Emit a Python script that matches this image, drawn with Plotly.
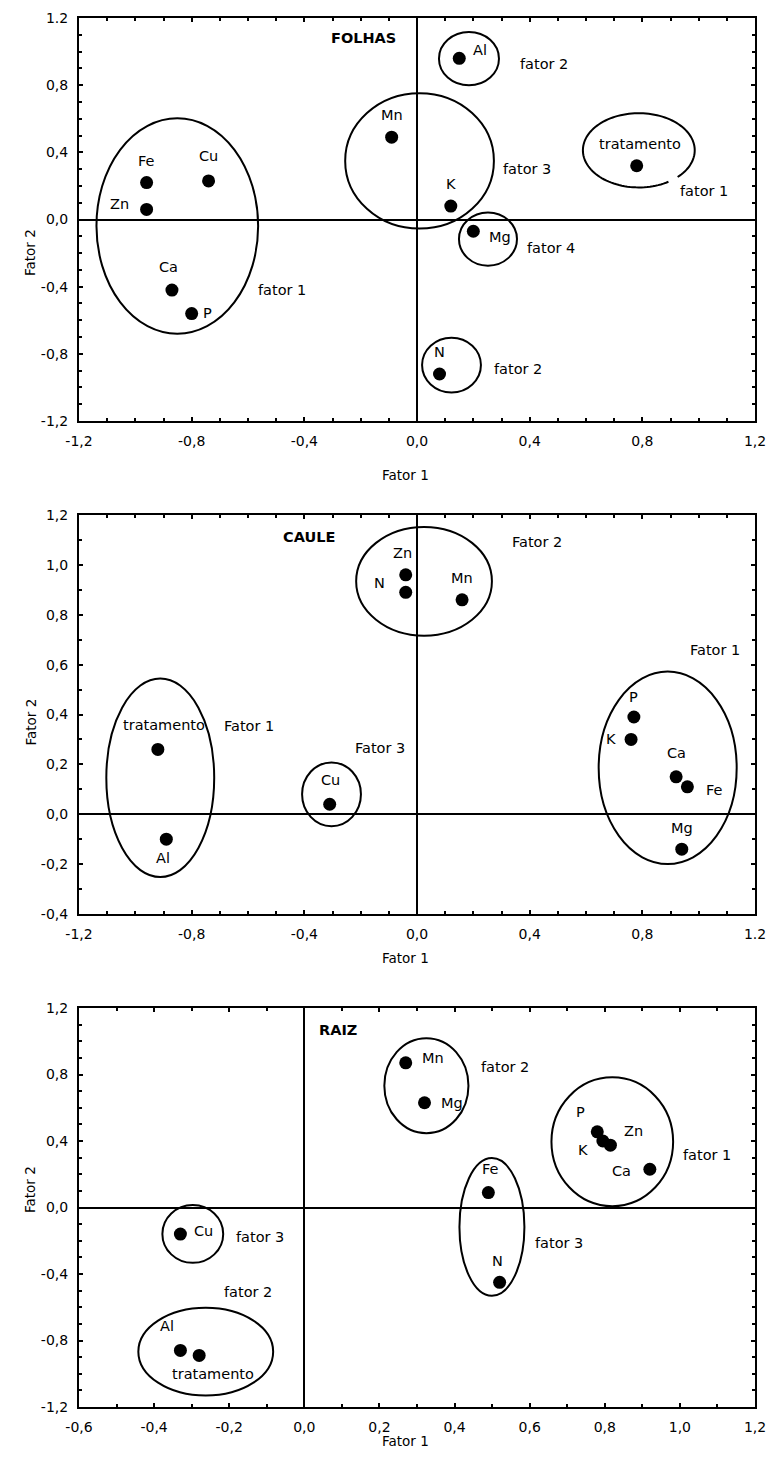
import numpy as np
import plotly.graph_objects as go

FONT = "DejaVu Sans"
W, H = 774, 1463

# ---------------- data: factor loadings (Fator 1, Fator 2) ----------------
folhas_var = ["Fe", "Cu", "Zn", "Ca", "P", "Mn", "Al", "K", "Mg", "N", "tratamento"]
folhas_f1 = [-0.96, -0.74, -0.96, -0.87, -0.80, -0.09, 0.15, 0.12, 0.20, 0.08, 0.78]
folhas_f2 = [0.22, 0.23, 0.06, -0.42, -0.56, 0.49, 0.96, 0.08, -0.07, -0.92, 0.32]

caule_var = ["tratamento", "Al", "Cu", "Zn", "N", "Mn", "P", "K", "Ca", "Fe", "Mg"]
caule_f1 = [-0.92, -0.89, -0.31, -0.04, -0.04, 0.16, 0.77, 0.76, 0.92, 0.96, 0.94]
caule_f2 = [0.26, -0.10, 0.04, 0.96, 0.89, 0.86, 0.39, 0.30, 0.15, 0.11, -0.14]

raiz_var = ["Cu", "Al", "tratamento", "Mn", "Mg", "Fe", "N", "P", "K", "Zn", "Ca"]
raiz_f1 = [-0.33, -0.33, -0.28, 0.27, 0.32, 0.49, 0.52, 0.78, 0.795, 0.815, 0.92]
raiz_f2 = [-0.16, -0.86, -0.89, 0.87, 0.63, 0.09, -0.45, 0.455, 0.40, 0.375, 0.23]

# tick values and labels
ticks_12 = [-1.2, -0.8, -0.4, 0.0, 0.4, 0.8, 1.2]
ticks_12_txt = ["-1,2", "-0,8", "-0,4", "0,0", "0,4", "0,8", "1,2"]
ticks_12_txt_y1 = ["-1,2", "-0,8", "-0,4", "0,0", "0,4", "0,8", "1.2"]
ticks_12_txt_x2 = ["-1,2", "-0,8", "-0,4", "0,0", "0,4", "0,8", "1.2"]
ticks_caule_y = [-0.4, -0.2, 0.0, 0.2, 0.4, 0.6, 0.8, 1.0, 1.2]
ticks_caule_y_txt = ["-0,4", "-0,2", "0,0", "0,2", "0,4", "0,6", "0,8", "1,0", "1,2"]
ticks_raiz_x = [-0.6, -0.4, -0.2, 0.0, 0.2, 0.4, 0.6, 0.8, 1.0, 1.2]
ticks_raiz_x_txt = ["-0,6", "-0,4", "-0,2", "0,0", "0,2", "0,4", "0,6", "0,8", "1,0", "1,2"]

# ---------------- label placement (pixel offsets from each point) ----------------
folhas_lbl = {"Fe": (0, 22), "Cu": (0, 25), "Zn": (-27, 5), "Ca": (-3, 23), "P": (16, 1),
              "Mn": (0, 22), "Al": (21, 8), "K": (0, 22), "Mg": (27, -6), "N": (0, 22),
              "tratamento": (3, 22)}
caule_lbl = {"tratamento": (6, 24), "Al": (-3, -19), "Cu": (1, 24), "Zn": (-3, 22),
             "N": (-26, 9), "Mn": (0, 22), "P": (0, 20), "K": (-20, 0), "Ca": (0, 24),
             "Fe": (27, -3), "Mg": (0, 21)}
raiz_lbl = {"Cu": (23, 3), "Al": (-13, 24), "tratamento": (14, -19), "Mn": (27, 5),
            "Mg": (27, 0), "Fe": (2, 24), "N": (-2, 21), "P": (-17, 20), "K": (-20, -9),
            "Zn": (23, 14), "Ca": (-28, -2)}

# group captions (text, x, y) in axis units
folhas_groups = [("fator 1", -0.48, -0.42), ("fator 3", 0.39, 0.30), ("fator 2", 0.45, 0.925),
                 ("fator 1", 1.02, 0.167), ("fator 4", 0.475, -0.167), ("fator 2", 0.36, -0.89)]
caule_groups = [("Fator 1", -0.596, 0.352), ("Fator 3", -0.131, 0.264),
                ("Fator 2", 0.426, 1.092), ("Fator 1", 1.057, 0.66)]
raiz_groups = [("fator 3", -0.117, -0.177), ("fator 2", -0.149, -0.508),
               ("fator 2", 0.535, 0.843), ("fator 3", 0.679, -0.216), ("fator 1", 1.073, 0.315)]

# grouping ellipses: (x0, x1, y0, y1) bounding boxes in axis units
folhas_ell = [(-1.138, -0.564, -0.68, 0.603), (-0.255, 0.273, -0.054, 0.752),
              (0.078, 0.291, 0.80, 1.116), (0.149, 0.355, -0.275, 0.042),
              (0.018, 0.227, -1.03, -0.704)]
folhas_ell_open = [((0.589, 0.986, 0.191, 0.633), (-58, -46))]  # ellipse with a small break
caule_ell = [(-1.103, -0.72, -0.252, 0.544), (-0.408, -0.199, -0.048, 0.208),
             (-0.216, 0.266, 0.716, 1.152), (0.645, 1.135, -0.2, 0.572)]
raiz_ell = [(-0.378, -0.216, -0.333, 0.015), (-0.442, -0.083, -1.131, -0.603),
            (0.213, 0.437, 0.447, 1.018), (0.413, 0.586, -0.531, 0.297),
            (0.658, 0.982, 0.008, 0.783)]

# ---------------- layout geometry (pixels) ----------------
PLOT_L, PLOT_R = 79, 755
PANEL_PX = [(18, 421), (515, 914), (1008, 1407)]


def py(v):
    return 1 - v / H


panels = [
    dict(title="FOLHAS", title_xy=(-0.19, 1.08), var=folhas_var, f1=folhas_f1, f2=folhas_f2,
         lbl=folhas_lbl, groups=folhas_groups, ell=folhas_ell, ell_open=folhas_ell_open,
         xr=[-1.2, 1.2], yr=[-1.2, 1.2], xt=(ticks_12, ticks_12_txt), yt=(ticks_12, ticks_12_txt_y1)),
    dict(title="CAULE", title_xy=(-0.383, 1.112), var=caule_var, f1=caule_f1, f2=caule_f2,
         lbl=caule_lbl, groups=caule_groups, ell=caule_ell, ell_open=[],
         xr=[-1.2, 1.2], yr=[-0.4, 1.2], xt=(ticks_12, ticks_12_txt_x2),
         yt=(ticks_caule_y, ticks_caule_y_txt)),
    dict(title="RAIZ", title_xy=(0.09, 1.066), var=raiz_var, f1=raiz_f1, f2=raiz_f2,
         lbl=raiz_lbl, groups=raiz_groups, ell=raiz_ell, ell_open=[],
         xr=[-0.6, 1.2], yr=[-1.2, 1.2], xt=(ticks_raiz_x, ticks_raiz_x_txt),
         yt=(ticks_12, ticks_12_txt)),
]

fig = go.Figure()
annotations = []
shapes = []
layout_axes = {}


def axis_cfg(rng, tv, tt, domain, anchor, standoff):
    return dict(range=rng, domain=domain, anchor=anchor, tickmode="array",
                tickvals=tv, ticktext=tt, showline=True, mirror="ticks",
                linecolor="black", linewidth=2, ticks="inside", ticklen=4,
                tickwidth=1.5, tickcolor="black",
                minor=dict(ticks="inside", ticklen=3, dtick=0.1, tick0=0,
                           tickcolor="black", tickwidth=1.5, showgrid=False),
                zeroline=True, zerolinecolor="black", zerolinewidth=2,
                showgrid=False, automargin=False, ticklabelstandoff=standoff,
                tickfont=dict(family=FONT, size=14, color="black"), fixedrange=True)


for i, p in enumerate(panels):
    n = "" if i == 0 else str(i + 1)
    xa, ya = "x" + n, "y" + n
    top, bot = PANEL_PX[i]
    ydom = [py(bot), py(top)]
    xdom = [PLOT_L / W, PLOT_R / W]
    layout_axes["xaxis" + n] = axis_cfg(p["xr"], *p["xt"], xdom, ya, 6)
    layout_axes["yaxis" + n] = axis_cfg(p["yr"], *p["yt"], ydom, xa, 6)

    fig.add_trace(go.Scatter(x=p["f1"], y=p["f2"], mode="markers", xaxis=xa, yaxis=ya,
                             marker=dict(size=13, color="black"), showlegend=False,
                             hoverinfo="skip", cliponaxis=False))

    for name, x, y in zip(p["var"], p["f1"], p["f2"]):
        dx, dy = p["lbl"][name]
        annotations.append(dict(x=x, y=y, xref=xa, yref=ya, text=name, showarrow=False,
                                xshift=dx, yshift=dy,
                                font=dict(family=FONT, size=14.5, color="black")))

    for text, x, y in p["groups"]:
        annotations.append(dict(x=x, y=y, xref=xa, yref=ya, text=text, showarrow=False,
                                font=dict(family=FONT, size=14.5, color="black")))

    tx, ty = p["title_xy"]
    annotations.append(dict(x=tx, y=ty, xref=xa, yref=ya, text="<b>" + p["title"] + "</b>",
                            showarrow=False, font=dict(family=FONT, size=14.5, color="black")))

    for x0, x1, y0, y1 in p["ell"]:
        shapes.append(dict(type="circle", xref=xa, yref=ya, x0=x0, x1=x1, y0=y0, y1=y1,
                           line=dict(color="black", width=2)))

    for (x0, x1, y0, y1), (g0, g1) in p["ell_open"]:
        cx, cy = (x0 + x1) / 2, (y0 + y1) / 2
        rx, ry = (x1 - x0) / 2, (y1 - y0) / 2
        t = np.radians(np.linspace(g1, g0 + 360, 120))
        pts = [f"{cx + rx * np.cos(a):.5f},{cy + ry * np.sin(a):.5f}" for a in t]
        shapes.append(dict(type="path", xref=xa, yref=ya, path="M" + " L".join(pts),
                           line=dict(color="black", width=2)))

    # axis titles
    annotations.append(dict(x=405 / W, y=py(bot + 44), xref="paper", yref="paper",
                            text="Fator 1", showarrow=False,
                            font=dict(family=FONT, size=13.5, color="black")))
    annotations.append(dict(x=20 / W, y=py((top + bot) / 2 + 8), xref="paper", yref="paper",
                            text="Fator 2", showarrow=False, textangle=-90,
                            font=dict(family=FONT, size=13.5, color="black")))

fig.update_layout(template="none", width=W, height=H,
                  margin=dict(l=0, r=0, t=0, b=0, autoexpand=False),
                  paper_bgcolor="white", plot_bgcolor="white",
                  annotations=annotations, shapes=shapes, showlegend=False,
                  **layout_axes)

fig.write_html("out.html")
